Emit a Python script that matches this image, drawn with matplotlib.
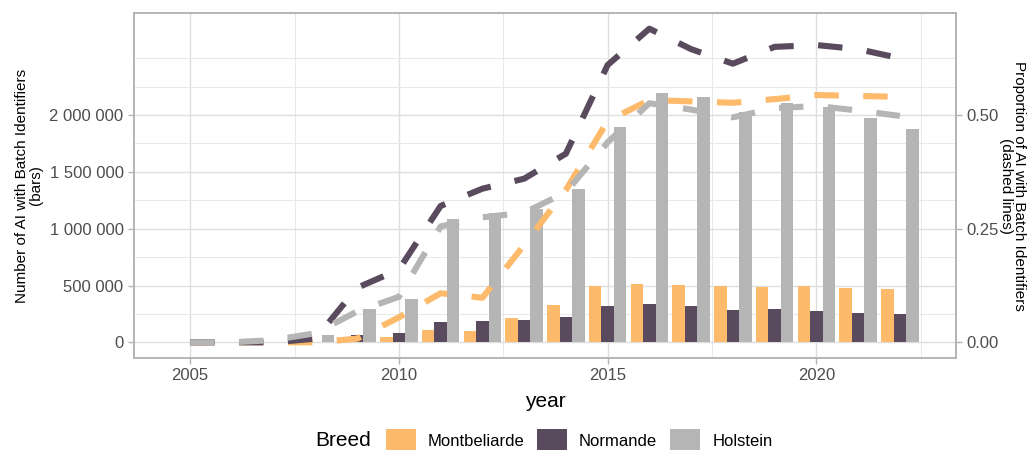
import numpy as np
import matplotlib
import matplotlib.pyplot as plt
from matplotlib.patches import Patch
from matplotlib.ticker import FixedLocator, FuncFormatter

matplotlib.use("Agg")
plt.rcParams['font.family'] = ['Liberation Sans', 'DejaVu Sans']

years = np.arange(2005, 2023)
breeds = ["Montbeliarde", "Normande", "Holstein"]
colors = ["#FDBA6B", "#5A4A5E", "#B5B5B5"]

# number of AI with batch identifiers (bars)
n_montbeliarde = [0, 0, 0, 0, 15000, 47000, 105000, 96000, 212000, 326000,
                  492000, 513000, 507000, 492000, 489000, 492000, 481000, 466000]
n_normande = [0, 0, 0, 5000, 62000, 85000, 177000, 190000, 198000, 227000,
              323000, 341000, 317000, 286000, 294000, 280000, 262000, 245000]
n_holstein = [0, 0, 3000, 67000, 294000, 379000, 1084000, 1134000, 1169000, 1352000,
              1897000, 2197000, 2160000, 2028000, 2109000, 2070000, 1975000, 1879000]

# proportion of AI with batch identifiers (dashed lines)
p_montbeliarde = [0, 0, 0, 0, 0.008, 0.055, 0.108, 0.098, 0.214, 0.335,
                  0.487, 0.533, 0.530, 0.527, 0.535, 0.544, 0.542, 0.540]
p_normande = [0, 0, 0, 0.008, 0.120, 0.160, 0.300, 0.338, 0.360, 0.415,
              0.610, 0.690, 0.645, 0.613, 0.650, 0.654, 0.645, 0.625]
p_holstein = [0, 0, 0.005, 0.020, 0.068, 0.100, 0.255, 0.275, 0.285, 0.330,
              0.440, 0.526, 0.512, 0.495, 0.515, 0.520, 0.510, 0.498]

counts = [n_montbeliarde, n_normande, n_holstein]
props = [p_montbeliarde, p_normande, p_holstein]
scale = 4e6  # 1 proportion unit on the right axis = 4 000 000 on the left

fig = plt.figure(figsize=(10.35, 4.5), dpi=100)
ax = fig.add_axes([134 / 1035, 1 - 358 / 450, (956 - 134) / 1035, (358 - 13) / 450])
ax2 = ax.twinx()

width = 0.3
for i, (vals, c) in enumerate(zip(counts, colors)):
    ax.bar(years + (i - 1) * width, vals, width=width, color=c, zorder=2)

for vals, c in zip(props, colors):
    ax2.plot(years, vals, color=c, lw=4.4, dashes=(4, 4), solid_capstyle='butt')

# limits like ggplot's 5% expansion
x0, x1 = years[0] - 1.5 * width, years[-1] + 1.5 * width
dx = 0.05 * (x1 - x0)
ax.set_xlim(x0 - dx, x1 + dx)
top = max(max(p) for p in props) * scale
ax.set_ylim(-0.05 * top, 1.05 * top)
ax2.set_ylim(-0.05 * top / scale, 1.05 * top / scale)

ax.xaxis.set_major_locator(FixedLocator([2005, 2010, 2015, 2020]))
ax.xaxis.set_minor_locator(FixedLocator([2007.5, 2012.5, 2017.5, 2022.5]))
ax.yaxis.set_major_locator(FixedLocator(np.arange(0, 2000001, 500000)))
ax.yaxis.set_minor_locator(FixedLocator(np.arange(250000, 2500001, 500000).tolist() + [2500000]))
ax.yaxis.set_major_formatter(FuncFormatter(lambda v, _: f"{int(v):,}".replace(",", " ")))
ax2.yaxis.set_major_locator(FixedLocator([0, 0.25, 0.5]))
ax2.yaxis.set_major_formatter(FuncFormatter(lambda v, _: f"{v:.2f}"))

ax.set_axisbelow(True)
ax.grid(which='major', color='#DEDEDE', lw=1.0)
ax.grid(which='minor', color='#E8E8E8', lw=0.7)
for a in (ax, ax2):
    for s in a.spines.values():
        s.set_color('#B3B3B3')
        s.set_linewidth(1.1)
    a.tick_params(which='major', colors='#B3B3B3', labelcolor='#4D4D4D',
                  labelsize=12, length=4, width=1)
    a.tick_params(which='minor', length=0)

ax.set_xlabel("year", fontsize=15, labelpad=6)
ax.set_ylabel("Number of AI with Batch Identifiers\n(bars)", fontsize=11,
              linespacing=0.95, labelpad=5)
ax2.set_ylabel("Proportion of AI with Batch Identifiers\n(dashed lines)", fontsize=11,
               linespacing=0.95, rotation=270, va='bottom', labelpad=0)

handles = [Patch(facecolor=c, edgecolor='none') for c in colors]
fig.text(315 / 1035, 1 - 441 / 450, "Breed", fontsize=15, ha='left', va='center')
fig.legend(handles, breeds, loc='center', bbox_to_anchor=(579 / 1035, 1 - 441 / 450),
           ncol=3, frameon=False, fontsize=12, handlelength=1.8, handleheight=1.8,
           handletextpad=0.7, columnspacing=0.8, borderpad=0, borderaxespad=0)

fig.savefig("out.png", dpi=100)
